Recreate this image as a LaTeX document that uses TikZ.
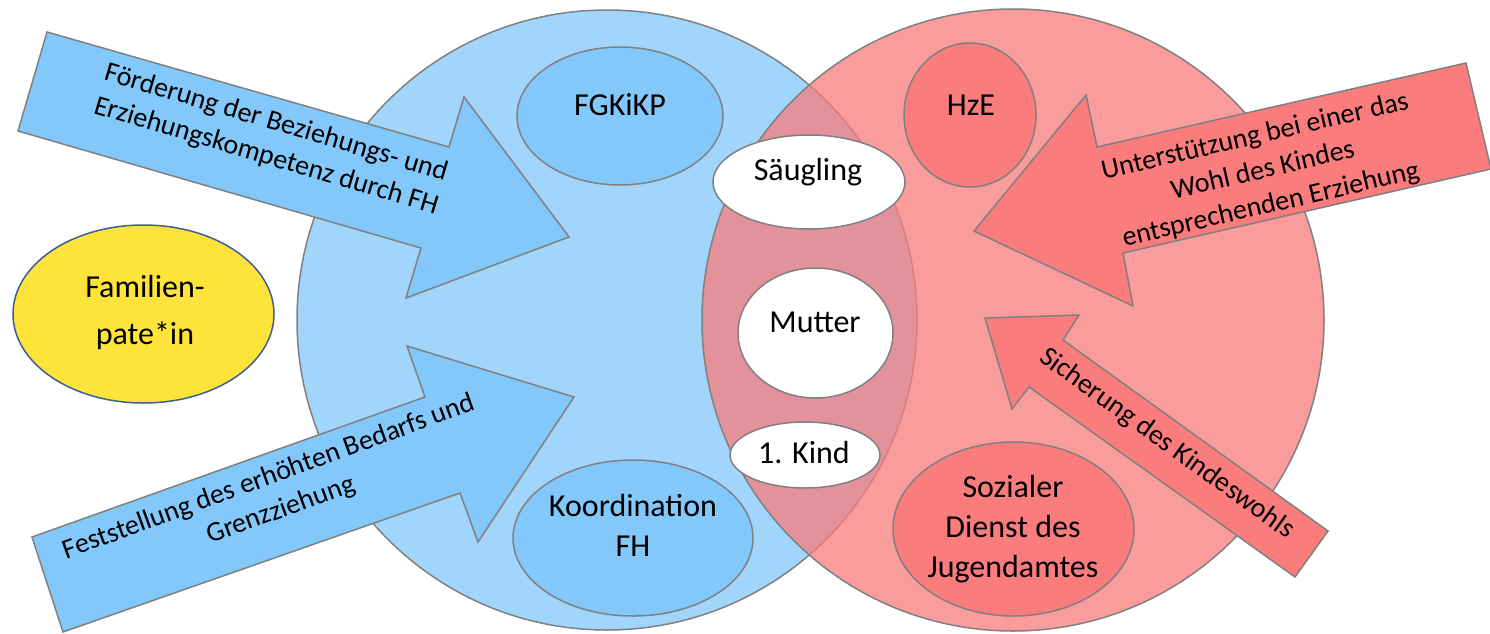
\documentclass[tikz,border=0pt]{standalone}
\usepackage{fontspec}
\setmainfont{Carlito}
\usetikzlibrary{shapes.geometric}

\definecolor{bluefill}{RGB}{131,200,250}
\definecolor{redfill}{RGB}{250,124,124}
\definecolor{yellowfill}{RGB}{254,228,58}
\definecolor{edgegray}{RGB}{128,128,128}
\definecolor{patedge}{RGB}{60,95,150}

\begin{document}
\begin{tikzpicture}[x=0.5pt,y=-0.5pt,
  outline/.style={draw=edgegray, line width=0.75pt},
  zone/.style={circle, outline, fill opacity=0.75, inner sep=0pt},
  oval/.style={ellipse, outline, inner sep=0pt},
  boxtext/.style={font=\fontsize{16}{20}\selectfont, inner sep=0pt, align=center},
  arrowtext/.style={font=\fontsize{14}{17.5}\selectfont, inner sep=0pt, align=center},
  bluearrow/.style={outline, fill=bluefill, line join=miter},
  redarrow/.style={outline, fill=redfill, line join=miter},
]
\useasboundingbox (0,0) rectangle (1490,633);
\fill[white] (0,0) rectangle (1490,633);

% the two overlapping fields
\node[zone, fill=bluefill, minimum size=310pt] (blue) at (607,320) {};
\node[zone, fill=redfill, minimum size=311pt] (red) at (1013,320) {};

% actors inside the fields
\node[oval, fill=yellowfill, draw=patedge, minimum width=130.5pt, minimum height=89pt] (pate) at (143.5,314) {};
\node[oval, fill=bluefill, minimum width=103pt, minimum height=69pt] (fg) at (620,116) {};
\node[oval, fill=bluefill, minimum width=120pt, minimum height=78pt] (koord) at (633,538) {};
\node[oval, fill=redfill, minimum width=66pt, minimum height=72pt] (hze) at (970,115) {};
\node[oval, fill=redfill, minimum width=120.5pt, minimum height=87pt] (sozial) at (1013.5,529) {};

% the family in the shared field
\node[oval, fill=white, minimum width=96pt, minimum height=47pt] (saeugling) at (809,182) {};
\node[oval, fill=white, minimum width=77.5pt, minimum height=65pt] (mutter) at (815.5,333) {};
\node[oval, fill=white, minimum width=75pt, minimum height=33pt] (kind) at (805,455) {};

\node[boxtext, font=\fontsize{16}{23.5}\selectfont] (patet) at (145,312.8) {Familien-\\pate*in};
\node[boxtext, anchor=base] (fgt) at (620,115) {FGKiKP};
\node[boxtext] (koordt) at (633,525.5) {Koordination\\FH};
\node[boxtext, anchor=base] (hzet) at (971,115) {HzE};
\node[boxtext] (sozialt) at (1013,529) {Sozialer\\Dienst des\\Jugendamtes};
\node[boxtext, anchor=base] (saeuglingt) at (808,180) {Säugling};
\node[boxtext, anchor=base] (muttert) at (815,332) {Mutter};
\node[boxtext, anchor=base] (kindt) at (804,463) {1. Kind};

% block arrows
\filldraw[bluearrow] (47,32) -- (449,147) -- (464,97) -- (569,237) -- (406,298) -- (421,248) -- (18,131) -- cycle;
\filldraw[bluearrow] (32,537) -- (425,397) -- (407,346) -- (574,397) -- (478,542) -- (460,493) -- (63,632) -- cycle;
\filldraw[redarrow] (1466,63) -- (1097,147) -- (1086,95) -- (974,231) -- (1133,306) -- (1123,253) -- (1491,169) -- cycle;
\filldraw[redarrow] (1328,531) -- (1063,340) -- (1079,315) -- (985,318) -- (1012,409) -- (1029,387) -- (1295,577) -- cycle;

\node[arrowtext, rotate=-16.5] (a1t) at (271,140) {Förderung der Beziehungs- und\\Erziehungskompetenz durch FH};
\node[arrowtext, rotate=20] (a2t) at (275,494) {Feststellung des erhöhten Bedarfs und\\Grenzziehung};
\node[arrowtext, rotate=13] (a3t) at (1263,171) {Unterstützung bei einer das\\Wohl des Kindes\\entsprechenden Erziehung};
\node[arrowtext, rotate=-35.7] (a4t) at (1167,444) {Sicherung des Kindeswohls};
\end{tikzpicture}
\end{document}
